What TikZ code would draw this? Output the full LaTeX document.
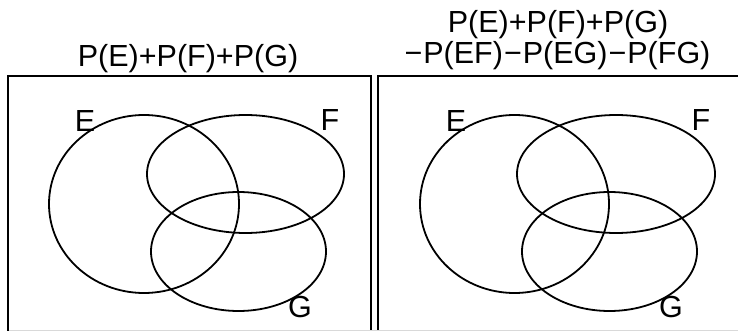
\documentclass[tikz,border=0pt]{standalone}
\usepackage{fontspec}
\setmainfont{Liberation Sans}
\usetikzlibrary{shapes.geometric}
\begin{document}
\begin{tikzpicture}[x=1pt,y=-1pt,
  lbl/.style={font=\fontsize{30.5}{31}\selectfont, inner sep=0pt, anchor=center},
  ttl/.style={font=\fontsize{30.5}{31}\selectfont, inner sep=0pt, anchor=base},
  frame/.style={draw=black, line width=2.2pt},
  set/.style={draw=black, line width=1.8pt, ellipse, inner sep=0pt, outer sep=0pt}
]
\useasboundingbox (0,0) rectangle (738,331);
\clip (0,0) rectangle (738,331);
% left panel
\node[ttl] (t1) at (188,66.5) {P(E)+P(F)+P(G)};
\draw[frame] (8,76) rectangle (371,333);
\node[set, minimum width=190pt, minimum height=178pt] (E1) at (144,204) {};
\node[set, minimum width=197pt, minimum height=118pt] (F1) at (245.5,174) {};
\node[set, minimum width=175pt, minimum height=119pt] (G1) at (238.5,251.5) {};
\node[lbl] (lE1) at (85,121) {E};
\node[lbl] (lF1) at (330,120.5) {F};
\node[lbl] (lG1) at (300,307) {G};
% right panel
\node[ttl] (t2a) at (558,33) {P(E)+P(F)+P(G)};
\node[ttl] (t2b) at (557.5,63.5) {\char"2212\kern1pt P(EF)\kern1pt\char"2212\kern1pt P(EG)\kern1pt\char"2212\kern1pt P(FG)};
\draw[frame] (378,76) rectangle (742,333);
\node[set, minimum width=189pt, minimum height=178pt] (E2) at (514.5,204) {};
\node[set, minimum width=198pt, minimum height=118pt] (F2) at (616,174) {};
\node[set, minimum width=175pt, minimum height=119pt] (G2) at (609.5,251.5) {};
\node[lbl] (lE2) at (456,121) {E};
\node[lbl] (lF2) at (701,120.5) {F};
\node[lbl] (lG2) at (671,307) {G};
\draw[black!15, line width=1pt] (9,330.5) -- (738,330.5);
\end{tikzpicture}
\end{document}
